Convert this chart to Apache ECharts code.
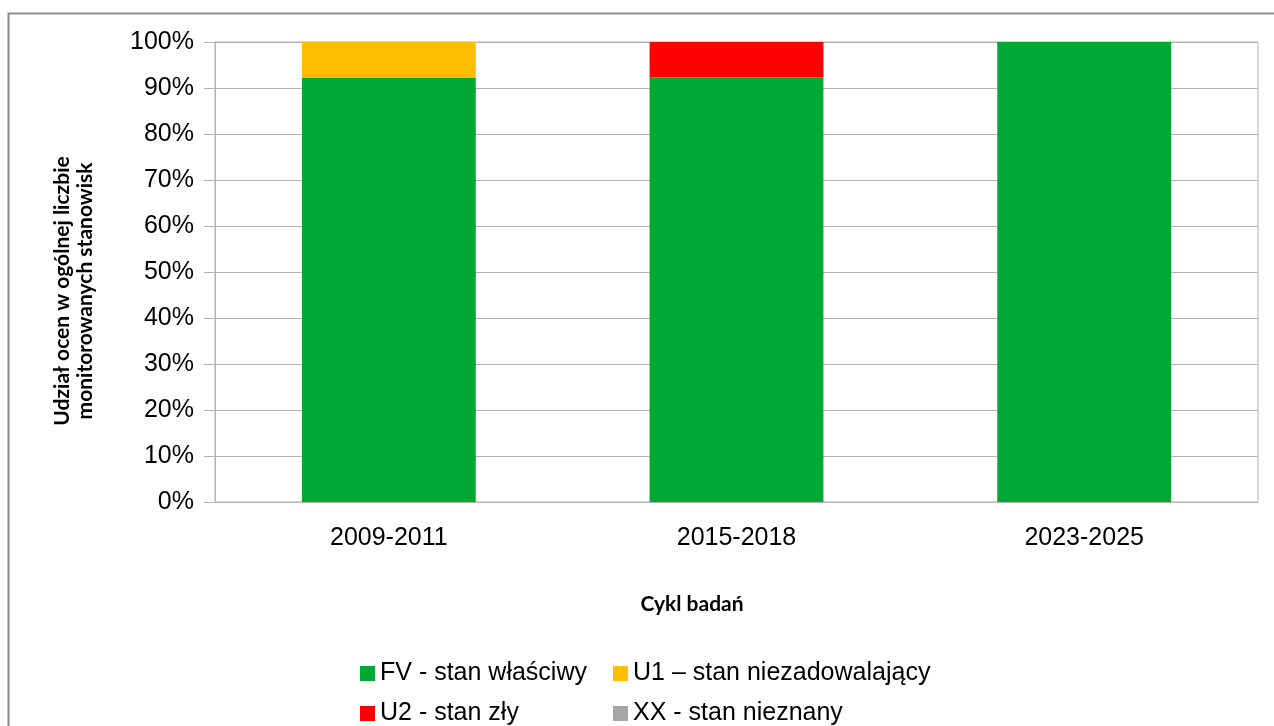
<!DOCTYPE html>
<html>
<head>
<meta charset="utf-8">
<script src="https://cdn.jsdelivr.net/npm/echarts@6/dist/echarts.min.js"></script>
<style>
  html, body { margin: 0; padding: 0; background: #fff; }
  #chart { width: 1274px; height: 726px; }
</style>
</head>
<body>
<div id="chart"></div>
<script>
const categories = ['2009-2011', '2015-2018', '2023-2025']
const fvValues = [92.3, 92.3, 100]
const u1Values = [7.7, 0, 0]
const u2Values = [0, 7.7, 0]
const xxValues = [0, 0, 0]
const yTicks = [0, 10, 20, 30, 40, 50, 60, 70, 80, 90, 100]

const chart = echarts.init(document.getElementById('chart'))
const gridColor = '#b3b3b3'
const labelFont = { fontFamily: 'Liberation Sans', fontSize: 25, color: '#000' }

const mk = (name, data, color) => ({
  name, type: 'bar', stack: 'total', barWidth: '50%', data,
  itemStyle: { color }
})

// one legend per column so the two rows line up like the original
const legendCol = (names, left) => ({
  data: names, orient: 'vertical', left, top: 656, height: 120, itemGap: 15,
  itemWidth: 15, itemHeight: 15, icon: 'rect', textStyle: labelFont
})

chart.setOption({
  animation: false,
  backgroundColor: '#fff',
  grid: { left: 215, right: 16, top: 42, bottom: 224, show: true, borderColor: gridColor, borderWidth: 1 },
  graphic: [
    { type: 'rect', shape: { x: 8.5, y: 13.5, width: 1300, height: 800 }, style: { fill: 'none', stroke: '#8c8c8c', lineWidth: 2 } },
    { type: 'text', x: 74, y: 291, rotation: Math.PI / 2,
      style: { text: 'Udział ocen w ogólnej liczbie\nmonitorowanych stanowisk', font: 'bold 21px Lato', fill: '#000',
        align: 'center', verticalAlign: 'middle', lineHeight: 23 } },
    { type: 'text', x: 692, y: 604,
      style: { text: 'Cykl badań', font: 'bold 21px Lato', fill: '#000', align: 'center', verticalAlign: 'middle' } }
  ],
  xAxis: {
    type: 'category', data: categories,
    axisLine: { lineStyle: { color: gridColor } },
    axisTick: { length: 11, lineStyle: { color: gridColor } },
    axisLabel: Object.assign({ margin: 24 }, labelFont)
  },
  yAxis: {
    type: 'value', min: 0, max: 100, interval: 10,
    axisLine: { show: true, lineStyle: { color: gridColor } },
    axisTick: { show: true, length: 11, lineStyle: { color: gridColor } },
    splitLine: { lineStyle: { color: gridColor } },
    axisLabel: Object.assign({ margin: 21, formatter: v => yTicks.includes(v) ? v + '%' : '' }, labelFont)
  },
  legend: [
    legendCol(['FV - stan właściwy', 'U2 - stan zły'], 355),
    legendCol(['U1 – stan niezadowalający', 'XX - stan nieznany'], 608)
  ],
  series: [
    mk('FV - stan właściwy', fvValues, '#00a933'),
    mk('U1 – stan niezadowalający', u1Values, '#ffbf00'),
    mk('U2 - stan zły', u2Values, '#ff0000'),
    mk('XX - stan nieznany', xxValues, '#a6a6a6')
  ]
})
</script>
</body>
</html>
